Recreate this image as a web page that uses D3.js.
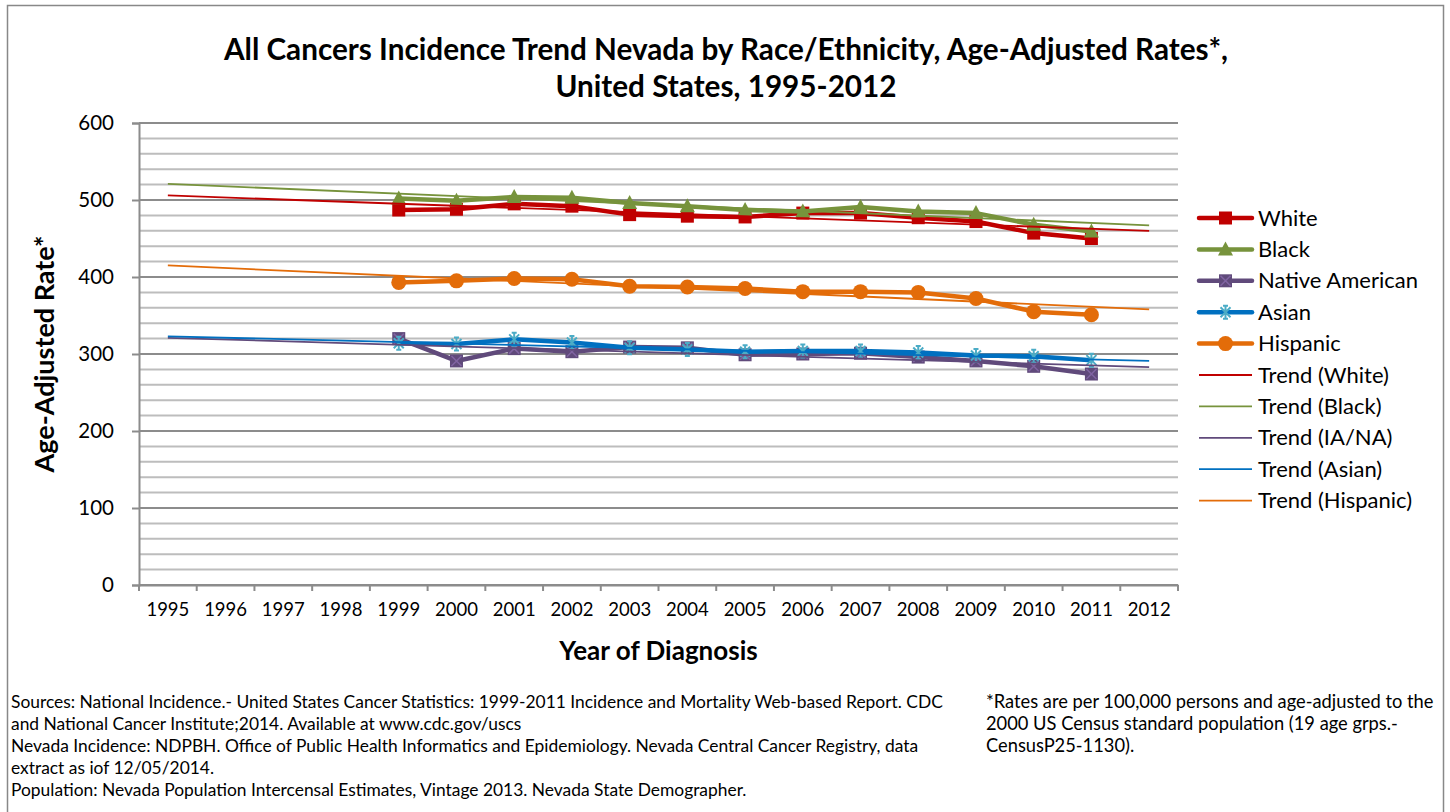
<!DOCTYPE html>
<html><head><meta charset="utf-8">
<script src="https://cdn.jsdelivr.net/npm/d3@7"></script>
<style>
html,body{margin:0;padding:0;background:#fff;}
svg{display:block;font-family:Lato,"Open Sans",sans-serif;}
</style></head>
<body>
<svg id="chart" width="1450" height="812"></svg>
<script>
// ---------- data ----------
const years = ["1995","1996","1997","1998","1999","2000","2001","2002","2003","2004","2005","2006","2007","2008","2009","2010","2011","2012"];
const dataYears = ["1999","2000","2001","2002","2003","2004","2005","2006","2007","2008","2009","2010","2011"];
const white    = [487,488,495,492,481,479,478,483,483,477,472,457,450];
const black    = [502,499,504,503,496,492,487,485,491,485,483,468,459];
const nativeAm = [320,291,307,303,309,308,299,300,301,296,291,284,274];
const asian    = [314,313,319,315,308,306,303,304,304,302,298,297,292];
const hispanic = [393,395,398,397,388,387,385,381,381,380,372,355,351];
// trend lines: values at 1995 and 2012
const trendYears = ["1995","2012"];
const trendWhite    = [506,460];
const trendBlack    = [521,467];
const trendIANA     = [321,283];
const trendAsian    = [323,291];
const trendHispanic = [415,358];
const yTicks = [0,100,200,300,400,500,600];
const titleLines = ["All Cancers Incidence Trend Nevada by Race/Ethnicity, Age-Adjusted Rates*,","United States, 1995-2012"];
const footLeft = [
 "Sources: National Incidence.- United States Cancer Statistics: 1999-2011 Incidence and Mortality Web-based Report. CDC",
 "and National Cancer Institute;2014. Available at www.cdc.gov/uscs",
 "Nevada  Incidence: NDPBH. Office of  Public Health Informatics and Epidemiology. Nevada Central Cancer Registry, data",
 "extract as iof 12/05/2014.",
 "Population: Nevada Population Intercensal Estimates, Vintage 2013. Nevada State Demographer."];
const footRight = [
 "*Rates are per 100,000 persons and age-adjusted to the",
 "2000 US Census standard population (19 age grps.-",
 "CensusP25-1130)."];

const series = [
  {name:"White", values:white, color:"#C00000", mcolor:"#C00000", marker:"square"},
  {name:"Black", values:black, color:"#77933C", mcolor:"#77933C", marker:"triangle"},
  {name:"Native American", values:nativeAm, color:"#604A7B", mcolor:"#604A7B", marker:"xsquare"},
  {name:"Asian", values:asian, color:"#0070C0", mcolor:"#4BACC6", marker:"asterisk"},
  {name:"Hispanic", values:hispanic, color:"#E36C09", mcolor:"#E36C09", marker:"circle"}
];
const trends = [
  {name:"Trend (White)", values:trendWhite, color:"#C00000"},
  {name:"Trend (Black)", values:trendBlack, color:"#77933C"},
  {name:"Trend (IA/NA)", values:trendIANA, color:"#604A7B"},
  {name:"Trend (Asian)", values:trendAsian, color:"#0070C0"},
  {name:"Trend (Hispanic)", values:trendHispanic, color:"#E36C09"}
];

// ---------- layout ----------
const svg = d3.select("#chart");
const L = 139, R = 1178, T = 123, B = 585;
const x = d3.scaleBand().domain(years).range([L, R]);
const xc = d => x(d) + x.bandwidth()/2;
const y = d3.scaleLinear().domain([0,600]).range([B, T]);

// outer border
svg.append("rect").attr("x",7.5).attr("y",5.5).attr("width",1436).attr("height",812)
  .attr("fill","none").attr("stroke","#888").attr("stroke-width",1.5);

// title
svg.append("g").selectAll("text").data(titleLines).join("text")
  .attr("x",726).attr("y",(d,i)=>60+i*37).attr("text-anchor","middle")
  .attr("font-size",29.7).attr("font-weight","bold").attr("fill","#000").text(d=>d);

// gridlines
const minor = d3.range(0,601,20);
svg.append("g").selectAll("line").data(minor).join("line")
  .attr("x1",L).attr("x2",R).attr("y1",d=>y(d)).attr("y2",d=>y(d))
  .attr("stroke",d=>d%100===0?"#8c8c8c":"#bdbdbd").attr("stroke-width",2);

// y axis
const yAxis = svg.append("g").attr("transform",`translate(${L},0)`)
  .call(d3.axisLeft(y).tickValues(yTicks).tickSize(7).tickPadding(18).tickFormat(d3.format("d")));
yAxis.select(".domain").attr("stroke","#8c8c8c").attr("stroke-width",2);
yAxis.selectAll(".tick line").attr("stroke","#8c8c8c").attr("stroke-width",2);
yAxis.selectAll("text").attr("font-size",20.5).attr("fill","#000").attr("font-family","Lato");

// x axis
const xAxis = svg.append("g").attr("transform",`translate(0,${B})`)
  .call(d3.axisBottom(x).tickSize(0).tickPadding(18));
xAxis.select(".domain").attr("stroke","#8c8c8c").attr("stroke-width",2);
xAxis.selectAll("text").attr("font-size",18.5).attr("fill","#000").attr("font-family","Lato");
// tick marks at band boundaries
const bounds = years.map(d=>x(d)).concat([R]);
xAxis.append("g").selectAll("line").data(bounds).join("line")
  .attr("x1",d=>d).attr("x2",d=>d).attr("y1",0).attr("y2",6)
  .attr("stroke","#8c8c8c").attr("stroke-width",2);

// axis titles
svg.append("text").attr("x",(L+R)/2).attr("y",660).attr("text-anchor","middle")
  .attr("font-size",26).attr("font-weight","bold").text("Year of Diagnosis");
svg.append("text").attr("transform",`translate(54,${(T+B)/2}) rotate(-90)`).attr("text-anchor","middle")
  .attr("font-size",27).attr("font-weight","bold").text("Age-Adjusted Rate*");

// markers
function drawMarker(g, type, cx, cy, color){
  if(type==="square"){
    g.append("rect").attr("x",cx-6.5).attr("y",cy-6.5).attr("width",13).attr("height",13).attr("fill",color);
  } else if(type==="xsquare"){
    g.append("rect").attr("x",cx-6.5).attr("y",cy-6.5).attr("width",13).attr("height",13).attr("fill",color);
    g.append("path").attr("d",`M${cx-5},${cy-5}L${cx+5},${cy+5}M${cx-5},${cy+5}L${cx+5},${cy-5}`)
      .attr("stroke","#8064A2").attr("stroke-width",1.5);
  } else if(type==="triangle"){
    g.append("path").attr("d",`M${cx},${cy-8}L${cx+7.5},${cy+6}L${cx-7.5},${cy+6}Z`).attr("fill",color);
  } else if(type==="circle"){
    g.append("circle").attr("cx",cx).attr("cy",cy).attr("r",7.5).attr("fill",color);
  } else if(type==="asterisk"){
    g.append("path").attr("d",`M${cx-5},${cy-5}L${cx+5},${cy+5}M${cx-5},${cy+5}L${cx+5},${cy-5}M${cx},${cy-7}L${cx},${cy+7}M${cx-2.5},${cy-6.5}L${cx+2.5},${cy-6.5}M${cx-2.5},${cy+6.5}L${cx+2.5},${cy+6.5}`)
      .attr("stroke",color).attr("stroke-width",2).attr("fill","none");
  }
}

// series
const line = d3.line().x(d=>xc(d[0])).y(d=>y(d[1]));
series.forEach(s=>{
  const pts = dataYears.map((yr,i)=>[yr,s.values[i]]);
  const g = svg.append("g");
  g.append("path").attr("d",line(pts)).attr("fill","none").attr("stroke",s.color)
    .attr("stroke-width",4.5).attr("stroke-linejoin","round").attr("stroke-linecap","round");
  pts.forEach(p=>drawMarker(g, s.marker, xc(p[0]), y(p[1]), s.mcolor));
});

// trends
trends.forEach(t=>{
  const pts = trendYears.map((yr,i)=>[yr,t.values[i]]);
  svg.append("path").attr("d",line(pts)).attr("fill","none").attr("stroke",t.color).attr("stroke-width",1.8);
});

// legend
const lg = svg.append("g");
const legendItems = series.map(s=>({name:s.name,color:s.color,mcolor:s.mcolor,marker:s.marker,thick:true}))
  .concat(trends.map(t=>({name:t.name,color:t.color,thick:false})));
legendItems.forEach((it,i)=>{
  const cy = 218 + i*31.4;
  lg.append("line").attr("x1",1199).attr("x2",1252).attr("y1",cy).attr("y2",cy)
    .attr("stroke",it.color).attr("stroke-width",it.thick?4.5:1.8).attr("stroke-linecap",it.thick?"round":"butt");
  if(it.thick) drawMarker(lg, it.marker, 1225.5, cy, it.mcolor);
  lg.append("text").attr("x",1258).attr("y",cy+7.5).attr("font-size",22).attr("fill","#000").text(it.name);
});

// footnotes
svg.append("g").selectAll("text").data(footLeft).join("text")
  .attr("x",11).attr("y",(d,i)=>708+i*22).attr("font-size",17.4).attr("fill","#000").text(d=>d);
svg.append("g").selectAll("text").data(footRight).join("text")
  .attr("x",986).attr("y",(d,i)=>708+i*22).attr("font-size",18.3).attr("fill","#000").text(d=>d);
</script>
</body></html>
